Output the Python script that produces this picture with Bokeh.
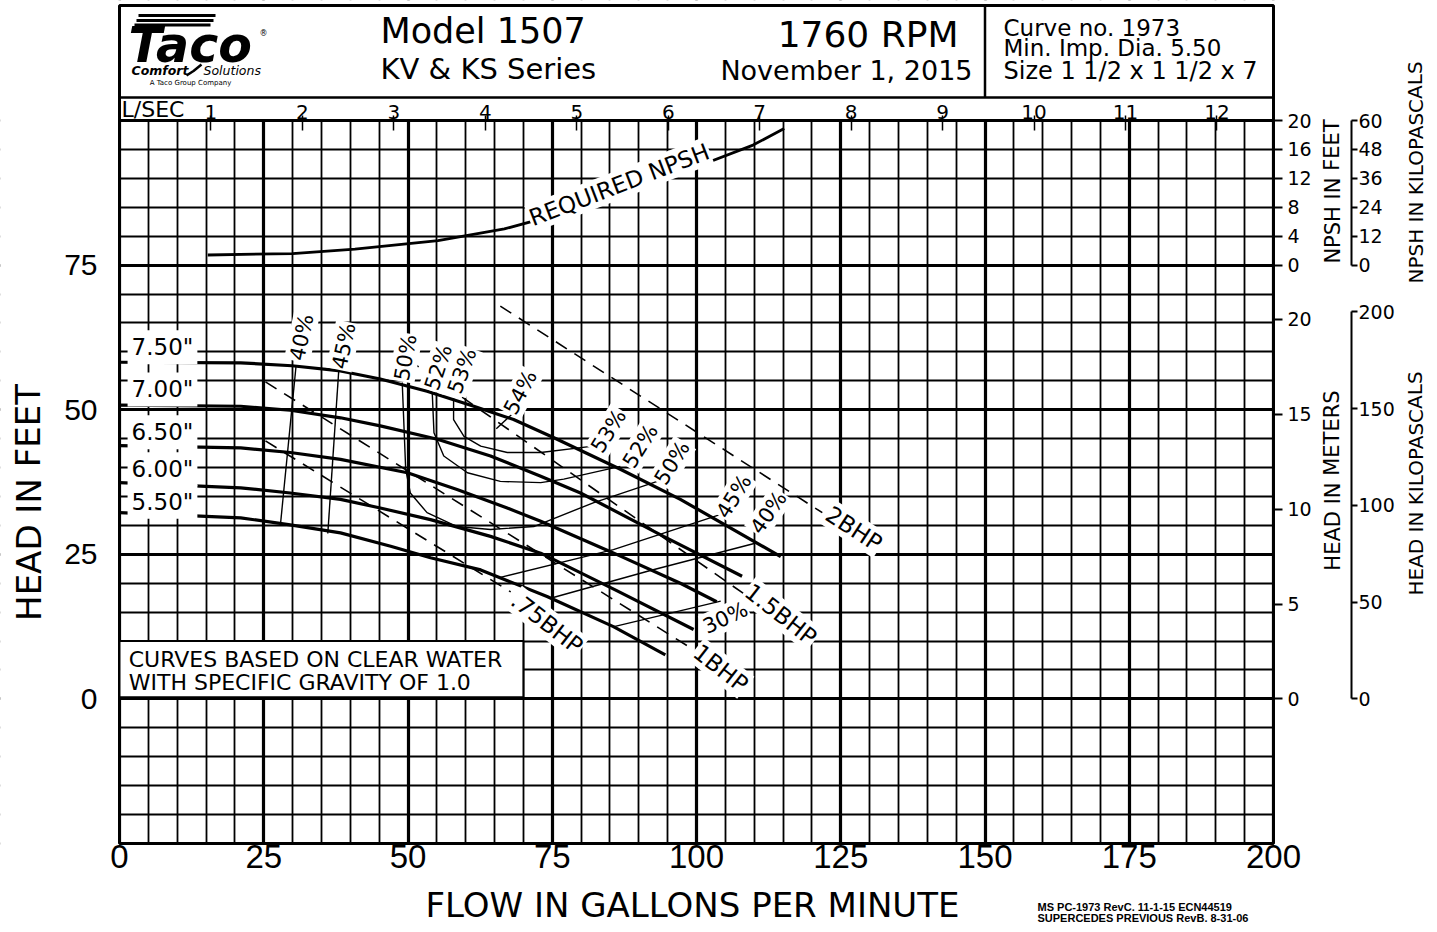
import math
from bokeh.plotting import figure
from bokeh.models import Range1d, LinearAxis, FixedTicker, ColumnDataSource
from bokeh.embed import file_html
from bokeh.resources import INLINE
from bokeh.core.properties import value

SANS = "DejaVu Sans"
LIB = "Liberation Sans"

# ---------------- unit conversions / ticks ----------------
GPM_PER_LPS = 15.8503
FT_PER_M = 3.28084
FT_PER_KPA = 0.334553
NPSH_PER_FT = 0.8          # 20 ft of NPSH drawn over the 75-100 ft band of the head grid
KPA_PER_NPSH_FT = 3.0      # the chart's NPSH kPa scale (60 kPa at 20 ft)

x_ticks = [0, 25, 50, 75, 100, 125, 150, 175, 200]
x_minor = list(range(0, 201, 5))
y_ticks = [0, 25, 50, 75]
y_minor = list(range(-25, 101, 5))
lps_ticks = [1, 2, 3, 4, 5, 6, 7, 8, 9, 10, 11, 12]
npsh_ft_ticks = [0, 4, 8, 12, 16, 20]
npsh_kpa_ticks = [0, 12, 24, 36, 48, 60]
head_m_ticks = [0, 5, 10, 15, 20]
head_kpa_ticks = [0, 50, 100, 150, 200]

# ---------------- impeller curves (GPM, ft) ----------------
imp_labels = ['7.50"', '7.00"', '6.50"', '6.00"', '5.50"']
d750_gpm = [0, 21.0, 29.9, 38.3, 45.2, 53.3, 61.4, 68.3, 75.2, 86.8, 97.2, 114.6]
d750_ft = [58.2, 58.1, 57.6, 56.7, 55.3, 53.2, 50.6, 48.3, 45.2, 39.7, 34.5, 24.6]
d700_gpm = [0, 21.0, 29.6, 38.3, 45.2, 55.1, 64.3, 73.0, 79.9, 94.3, 107.9]
d700_ft = [50.8, 50.6, 49.9, 48.6, 47.2, 44.9, 42.0, 38.5, 35.6, 28.1, 21.2]
d650_gpm = [0, 21.0, 29.6, 38.3, 49.9, 58.5, 67.2, 73.0, 85.0, 97.2, 103.5]
d650_ft = [43.8, 43.4, 42.6, 41.4, 39.1, 36.2, 33.0, 30.7, 25.5, 20.0, 16.8]
d600_gpm = [0, 21.0, 29.6, 38.3, 45.2, 53.9, 64.3, 73.0, 86.0, 99.5]
d600_ft = [37.4, 36.5, 35.6, 34.5, 33.0, 31.0, 28.1, 25.2, 18.8, 12.0]
d550_gpm = [0, 21.0, 29.6, 38.3, 47.0, 53.9, 62.6, 74.1, 85.6, 94.6]
d550_ft = [32.2, 31.3, 30.1, 28.7, 26.4, 24.4, 22.3, 17.7, 12.5, 7.6]

# ---------------- efficiency contours ----------------
e40a_gpm = [30.6, 27.9]
e40a_ft = [57.6, 30.2]
e40b_gpm = [74.7, 92.0, 110.5]
e40b_ft = [17.4, 22.2, 27.0]
e45a_gpm = [38.0, 36.1]
e45a_ft = [56.8, 28.6]
e45b_gpm = [66.0, 85.6, 104.2]
e45b_ft = [21.0, 25.8, 31.9]
e50_gpm = [49.0, 49.6, 50.4, 53.3, 58.5, 64.3, 71.8, 82.1, 93.2]
e50_ft = [54.7, 39.7, 35.6, 32.2, 29.8, 29.3, 29.8, 33.9, 37.6]
e52_gpm = [54.2, 54.5, 56.2, 60.3, 66.0, 73.0, 77.0, 86.8]
e52_ft = [53.0, 46.0, 42.0, 39.1, 37.6, 37.4, 38.0, 40.2]
e53_gpm = [57.9, 57.9, 59.7, 62.6, 67.2, 73.0, 82.1]
e53_ft = [52.0, 48.3, 45.4, 43.7, 42.6, 42.6, 43.7]
e54_gpm = [65.3, 68.2]
e54_ft = [46.7, 49.4]
e30_gpm = [85.7, 104.2]
e30_ft = [12.5, 16.9]

# ---------------- brake horsepower lines ----------------
b075_gpm = [25.3, 67.8]
b075_ft = [44.6, 18.5]
b100_gpm = [25.3, 99.5]
b100_ft = [54.8, 8.5]
b150_gpm = [50.0, 109.9]
b150_ft = [58.7, 17.0]
b200_gpm = [66.0, 121.8]
b200_ft = [67.9, 32.2]

# ---------------- required NPSH (GPM, NPSH ft) ----------------
npsh_gpm = [15.3, 30.0, 40.8, 55.2, 66.7, 79.6, 89.7, 99.7, 109.8, 115.2]
npsh_ft = [1.4, 1.6, 2.2, 3.4, 5.0, 7.8, 10.6, 13.5, 16.6, 18.9]

# ---------------- curve labels ----------------
eff_text = ["40%", "45%", "50%", "52%", "53%", "54%", "53%", "52%", "50%", "45%", "40%", "30%"]
eff_x = [31.6, 38.9, 49.6, 55.3, 59.4, 69.5, 84.8, 90.3, 95.8, 106.5, 112.5, 105.0]
eff_y = [62.5, 61.0, 59.0, 57.3, 56.7, 53.0, 46.3, 43.7, 40.8, 35.0, 32.2, 14.0]
eff_deg = [78, 78, 80, 72, 70, 62, 58, 58, 58, 58, 55, 25]
bhp_text = [".75BHP", "1BHP", "1.5BHP", "2BHP"]
bhp_x = [74.1, 104.2, 114.6, 127.3]
bhp_y = [13.1, 5.3, 14.6, 29.4]
bhp_deg = [-38, -38, -38, -33]
imp_lab_x = [1.4] * 5
imp_lab_y = [60.8, 53.5, 46.1, 39.7, 34.1]

# ================= canvas / layout =================
W, HGT = 1429, 924
BOX_LEFT_PX, BOX_TOP_PX = 119, 120          # where 0 GPM / 100 ft sit on the canvas
PX_PER_GPM, PX_PER_FT = 5.77, 5.784


def X(px):
    return (px - BOX_LEFT_PX) / PX_PER_GPM


def Y(py):
    return 100 - (py - BOX_TOP_PX) / PX_PER_FT


x_lo, x_hi = X(0), X(W)
y_lo, y_hi = Y(HGT), Y(0)

p = figure(width=W, height=HGT, min_border=0, x_range=Range1d(x_lo, x_hi), y_range=Range1d(y_lo, y_hi),
           toolbar_location=None, output_backend="svg")
p.outline_line_color = None
p.background_fill_color = "white"
p.border_fill_color = "white"
p.extra_x_ranges = {"lps": Range1d(x_lo / GPM_PER_LPS, x_hi / GPM_PER_LPS)}
p.extra_y_ranges = {
    "npsh": Range1d((y_lo - 75) * NPSH_PER_FT, (y_hi - 75) * NPSH_PER_FT),
    "npsh_kpa": Range1d((y_lo - 75) * NPSH_PER_FT * KPA_PER_NPSH_FT, (y_hi - 75) * NPSH_PER_FT * KPA_PER_NPSH_FT),
    "m": Range1d(y_lo / FT_PER_M, y_hi / FT_PER_M),
    "kpa": Range1d(y_lo / FT_PER_KPA, y_hi / FT_PER_KPA),
}


def plain(ax, font, size, standoff, tick_out=0, tick_in=0, line_color=None):
    ax.axis_line_color = line_color
    ax.axis_line_width = 2
    ax.major_tick_out = tick_out
    ax.major_tick_in = tick_in
    ax.minor_tick_out = 0
    ax.minor_tick_in = 0
    ax.major_tick_line_width = 2
    ax.major_tick_line_color = "black"
    ax.major_label_standoff = standoff
    ax.major_label_text_font = font
    ax.major_label_text_font_size = size
    ax.major_label_text_color = "black"


# main GPM axis / head axis (drawn at the edges of the grid)
xa = p.xaxis[0]
xa.ticker = FixedTicker(ticks=x_ticks, minor_ticks=x_minor)
xa.fixed_location = -25
plain(xa, LIB, "33px", 1)
ya = p.yaxis[0]
ya.ticker = FixedTicker(ticks=y_ticks, minor_ticks=y_minor)
ya.fixed_location = 0
plain(ya, LIB, "30px", 22)

for g in (p.xgrid[0], p.ygrid[0]):
    g.grid_line_color = "black"
    g.grid_line_width = 3.2
    g.minor_grid_line_color = "black"
    g.minor_grid_line_width = 1.8

# L/SEC scale on top of the grid
la = LinearAxis(x_range_name="lps", fixed_location=100, ticker=FixedTicker(ticks=lps_ticks))
plain(la, SANS, "20px", -3, tick_out=5, tick_in=10)
la.major_tick_line_width = 1.5
p.add_layout(la, "above")

# right hand scales
r1a = LinearAxis(y_range_name="npsh", fixed_location=200, ticker=FixedTicker(ticks=npsh_ft_ticks))
plain(r1a, SANS, "19px", 5, tick_out=9)
r1b = LinearAxis(y_range_name="m", fixed_location=200, ticker=FixedTicker(ticks=head_m_ticks))
plain(r1b, SANS, "19px", 5, tick_out=9)
r2a = LinearAxis(y_range_name="npsh_kpa", fixed_location=X(1351), ticker=FixedTicker(ticks=npsh_kpa_ticks),
                 bounds=(0, 60))
plain(r2a, SANS, "19px", 1, tick_out=6, line_color="black")
r2b = LinearAxis(y_range_name="kpa", fixed_location=X(1351), ticker=FixedTicker(ticks=head_kpa_ticks),
                 bounds=(0, 200))
plain(r2b, SANS, "19px", 1, tick_out=6, line_color="black")
for ax in (r1a, r1b, r2a, r2b):
    p.add_layout(ax, "right")

# keep the grid inside the box (white margins, overlapping so no seams remain)
pad = 5
p.quad(left=[x_lo - pad, 200, -1, -1], right=[0, x_hi + pad, 201, 201],
       bottom=[y_lo - pad, y_lo - pad, y_lo - pad, 100], top=[y_hi + pad, y_hi + pad, -25, y_hi + pad],
       fill_color="white", line_color=None)

# frame of the sheet: outer box, L/SEC band, header divider
p.quad(left=[0], right=[200], bottom=[-25], top=[Y(5)], fill_color=None, line_color="black", line_width=3)
p.segment(x0=[0, 0, 150], y0=[100, Y(97), Y(97)], x1=[200, 200, 150], y1=[100, Y(97), Y(5)],
          line_color="black", line_width=[3, 2.5, 2.5])


def txt(x, y, t, size, align="left", style="normal", font=SANS, angle=0.0):
    p.text(x=[x], y=[y], text=[t], angle=[angle], text_font=value(font), text_font_size=size,
           text_align=align, text_baseline="middle", text_font_style=style, text_color="black")


# header
txt(X(380), Y(30), "Model 1507", "35px")
txt(X(380), Y(68.5), "KV & KS Series", "29px")
txt(X(958), Y(34), "1760 RPM", "36px", align="right")
txt(X(972), Y(70), "November 1, 2015", "27px", align="right")
txt(X(1003), Y(27), "Curve no. 1973", "23px")
txt(X(1003), Y(47.5), "Min. Imp. Dia. 5.50", "23px")
txt(X(1003), Y(70), "Size 1 1/2 x 1 1/2 x 7", "24px")
txt(X(121), Y(108.5), "L/SEC", "22px")
# logo
p.segment(x0=[X(138), X(136), X(134)], y0=[Y(15), Y(20), Y(24.5)],
          x1=[X(215), X(213), X(210)], y1=[Y(15), Y(20), Y(24.5)], line_color="black", line_width=3)
txt(X(128), Y(45), "Taco", "49px", style="bold italic")
txt(X(259), Y(33), "®", "8px")
txt(X(131), Y(69.5), "Comfort", "12.5px", style="bold italic")
p.line(x=[X(186), X(193), X(201)], y=[Y(75), Y(70.5), Y(64)], line_color="black", line_width=2.5)
txt(X(203), Y(69.5), "Solutions", "12.5px", style="italic")
txt(X(190), Y(82), "A Taco Group Company", "7px", align="center")

# BHP dashed lines
for gx, gy in [(b075_gpm, b075_ft), (b100_gpm, b100_ft), (b150_gpm, b150_ft), (b200_gpm, b200_ft)]:
    p.line(gx, gy, line_color="black", line_width=1.6, line_dash="13 9")

# efficiency contours
for gx, gy in [(e40a_gpm, e40a_ft), (e40b_gpm, e40b_ft), (e45a_gpm, e45a_ft), (e45b_gpm, e45b_ft),
               (e50_gpm, e50_ft), (e52_gpm, e52_ft), (e53_gpm, e53_ft), (e54_gpm, e54_ft), (e30_gpm, e30_ft)]:
    p.line(gx, gy, line_color="black", line_width=1.4)

# impeller curves
for gx, gy in [(d750_gpm, d750_ft), (d700_gpm, d700_ft), (d650_gpm, d650_ft), (d600_gpm, d600_ft),
               (d550_gpm, d550_ft)]:
    p.line(gx, gy, line_color="black", line_width=3.2)

# NPSH curve on its own scale
p.line(npsh_gpm, npsh_ft, y_range_name="npsh", line_color="black", line_width=2.8)

# labels on the curves
lab_style = dict(text_font=value(SANS), text_align="center", text_baseline="middle", text_color="black",
                 background_fill_color="white", padding=1)
p.text(x="x", y="y", text="text", angle="angle", text_font_size="21px",
       source=ColumnDataSource(dict(x=eff_x, y=eff_y, text=eff_text, angle=[math.radians(a) for a in eff_deg])),
       **lab_style)
p.text(x="x", y="y", text="text", angle="angle", text_font_size="23px",
       source=ColumnDataSource(dict(x=bhp_x, y=bhp_y, text=bhp_text, angle=[math.radians(a) for a in bhp_deg])),
       **lab_style)
p.text(x="x", y="y", text="text", source=ColumnDataSource(dict(x=imp_lab_x, y=imp_lab_y, text=imp_labels)),
       text_font=value(SANS), text_font_size="23px", text_align="left", text_baseline="middle",
       text_color="black", background_fill_color="white", padding=4)
p.text(x=[86.6], y=[88.9], text=["REQUIRED NPSH"], angle=[math.radians(21)], text_font_size="23px",
       **lab_style)

# note box
p.quad(left=[0], right=[70], bottom=[0.3], top=[10], fill_color="white", line_color="black", line_width=2)
txt(1.6, 6.8, "CURVES BASED ON CLEAR WATER", "22px")
txt(1.6, 2.8, "WITH SPECIFIC GRAVITY OF 1.0", "22px")

# axis titles
txt(X(28), Y(502), "HEAD IN FEET", "34px", align="center", angle=math.pi / 2)
txt(X(692), Y(904), "FLOW IN GALLONS PER MINUTE", "34px", align="center")
txt(X(1332), Y(191), "NPSH IN FEET", "21px", align="center", angle=math.pi / 2)
txt(X(1332), Y(480), "HEAD IN METERS", "21px", align="center", angle=math.pi / 2)
txt(X(1415), Y(172), "NPSH IN KILOPASCALS", "20px", align="center", angle=math.pi / 2)
txt(X(1415), Y(483), "HEAD IN KILOPASCALS", "20px", align="center", angle=math.pi / 2)
txt(X(1037), Y(906), "MS PC-1973 RevC. 11-1-15 ECN44519", "11px", font=LIB, style="bold")
txt(X(1037), Y(917), "SUPERCEDES PREVIOUS RevB. 8-31-06", "11px", font=LIB, style="bold")

open("out.html", "w").write(file_html(p, INLINE))
